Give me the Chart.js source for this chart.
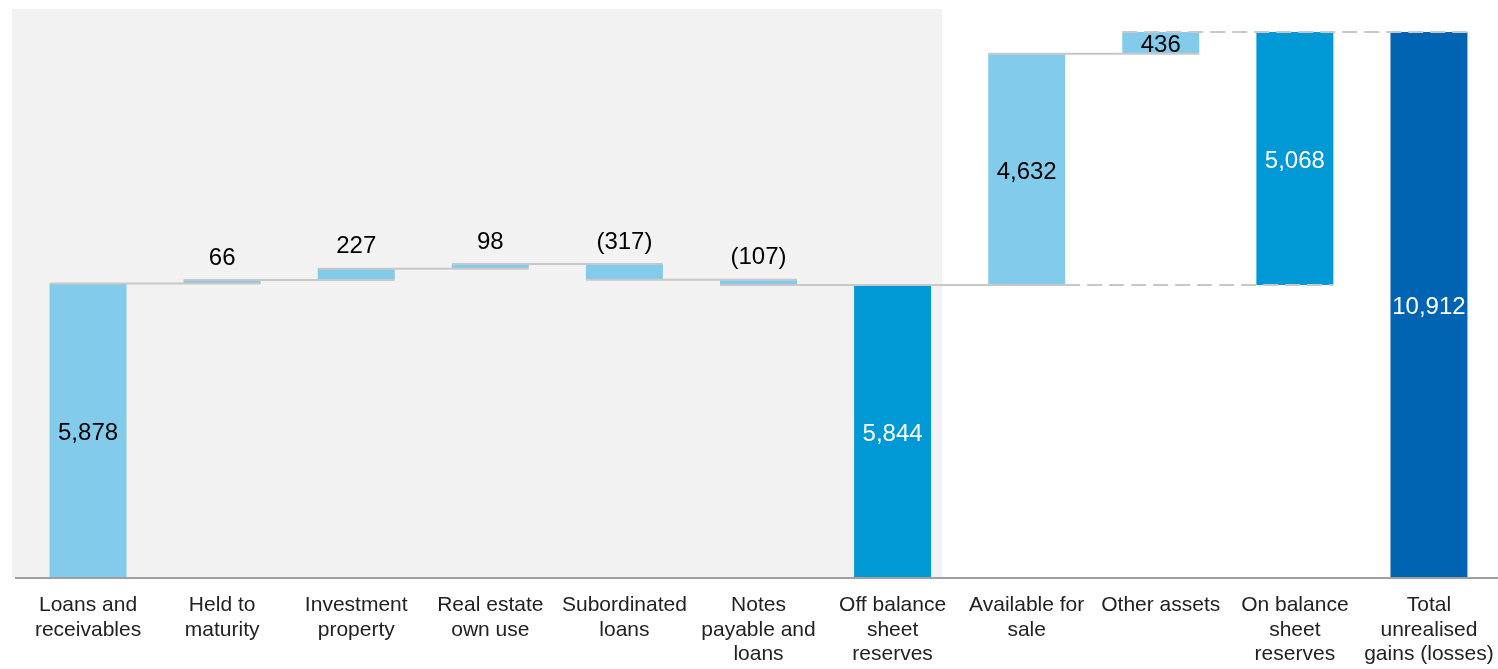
<!DOCTYPE html>
<html>
<head>
<meta charset="utf-8">
<script src="https://cdn.jsdelivr.net/npm/chart.js@4/dist/chart.umd.min.js"></script>
<style>
  html, body { margin: 0; padding: 0; background: #ffffff; }
  #wrap { width: 1498px; height: 669px; position: relative; }
</style>
</head>
<body>
<div id="wrap"><canvas id="c" width="1498" height="669"></canvas></div>
<script>
// ---- data ----
const categories = [
  ['Loans and', 'receivables'],
  ['Held to', 'maturity'],
  ['Investment', 'property'],
  ['Real estate', 'own use'],
  ['Subordinated', 'loans'],
  ['Notes', 'payable and', 'loans'],
  ['Off balance', 'sheet', 'reserves'],
  ['Available for', 'sale'],
  ['Other assets'],
  ['On balance', 'sheet', 'reserves'],
  ['Total', 'unrealised', 'gains (losses)']
];
const values = [5878, 66, 227, 98, -317, -107, 5844, 4632, 436, 5068, 10912];
const valueLabels = ['5,878', '66', '227', '98', '(317)', '(107)', '5,844', '4,632', '436', '5,068', '10,912'];
// 'total' = bar from zero, 'delta' = step from running total, 'group' = sum of deltas since last total
const barKind = ['total', 'delta', 'delta', 'delta', 'delta', 'delta', 'total', 'delta', 'delta', 'group', 'total'];
const yMax = 11352;

// ---- build floating bars ----
const floating = [];
const endLevel = [];
let running = 0, lastTotal = 0;
values.forEach((v, i) => {
  const k = barKind[i];
  if (k === 'total') {
    floating.push([0, v]); running = v; lastTotal = v;
  } else if (k === 'delta') {
    floating.push([running, running + v]); running += v;
  } else {
    floating.push([lastTotal, lastTotal + v]); running = lastTotal + v;
  }
  endLevel.push(running);
});

const LIGHT = '#83CBEB', MID = '#0099D6', DARK = '#0064B2';
const barColors = barKind.map((k, i) => {
  if (i === 0) return LIGHT;
  if (k === 'delta') return LIGHT;
  if (i === values.length - 1) return DARK;
  return MID;
});
const labelColors = barColors.map(c => c === LIGHT ? '#000000' : '#ffffff');

const FONT = '"Liberation Sans", Arial, sans-serif';

const decoPlugin = {
  id: 'deco',
  beforeDatasetsDraw(chart) {
    const ctx = chart.ctx, ca = chart.chartArea;
    const meta = chart.getDatasetMeta(0);
    const b0 = meta.data[0], b6 = meta.data[6];
    const x0 = b0.x - chart.scales.x.width / values.length / 2 - 9;
    const x1 = b6.x + b6.width / 2 + 11;
    ctx.save();
    ctx.fillStyle = '#f2f2f2';
    ctx.fillRect(x0, ca.top - 1, x1 - x0, ca.bottom - ca.top + 1);
    ctx.restore();
  },
  afterDatasetsDraw(chart) {
    const ctx = chart.ctx, ca = chart.chartArea;
    const meta = chart.getDatasetMeta(0);
    const ys = chart.scales.y;
    const L = i => meta.data[i].x - meta.data[i].width / 2;
    const R = i => meta.data[i].x + meta.data[i].width / 2;
    ctx.save();
    ctx.strokeStyle = '#c8c8c8';
    ctx.lineWidth = 2;
    // solid connectors
    for (let i = 0; i < 8; i++) {
      const y = ys.getPixelForValue(endLevel[i]);
      ctx.beginPath();
      ctx.moveTo(L(i), y); ctx.lineTo(R(i + 1), y);
      ctx.stroke();
    }
    // dashed connectors
    ctx.setLineDash([15, 7]);
    let y = ys.getPixelForValue(endLevel[10]);
    ctx.beginPath(); ctx.moveTo(L(8), y); ctx.lineTo(R(10), y); ctx.stroke();
    y = ys.getPixelForValue(floating[9][0]);
    ctx.beginPath(); ctx.moveTo(R(7), y); ctx.lineTo(R(9), y); ctx.stroke();
    ctx.setLineDash([]);
    // axis line
    ctx.strokeStyle = '#a0a0a0';
    ctx.lineWidth = 2;
    ctx.beginPath();
    ctx.moveTo(15, ca.bottom + 1); ctx.lineTo(chart.width, ca.bottom + 1);
    ctx.stroke();
    // value labels
    ctx.font = '24px ' + FONT;
    ctx.textAlign = 'center';
    ctx.textBaseline = 'middle';
    values.forEach((v, i) => {
      const top = ys.getPixelForValue(Math.max(...floating[i]));
      const bot = ys.getPixelForValue(Math.min(...floating[i]));
      const inside = (bot - top) >= 20;
      ctx.fillStyle = inside ? labelColors[i] : '#000000';
      const ly = inside ? (top + bot) / 2 + 3 : top - 22;
      ctx.fillText(valueLabels[i], meta.data[i].x, ly);
    });
    ctx.restore();
  }
};

new Chart(document.getElementById('c'), {
  type: 'bar',
  data: {
    labels: categories,
    datasets: [{
      data: floating,
      backgroundColor: barColors,
      borderWidth: 0,
      barPercentage: 0.574,
      categoryPercentage: 1.0
    }]
  },
  options: {
    responsive: false,
    animation: false,
    layout: { padding: { left: 21, right: 2, top: 10, bottom: 0 } },
    plugins: { legend: { display: false }, tooltip: { enabled: false } },
    scales: {
      x: {
        grid: { display: false, drawTicks: false },
        border: { display: false },
        ticks: {
          color: '#222222',
          font: { family: FONT, size: 21, lineHeight: 1.17 },
          padding: 16,
          maxRotation: 0,
          autoSkip: false
        },
        afterFit(scale) {
          scale.height = 92;
          scale.paddingLeft = 0;
          scale.paddingRight = 0;
        }
      },
      y: {
        display: false,
        min: 0,
        max: yMax
      }
    }
  },
  plugins: [decoPlugin]
});
</script>
</body>
</html>
